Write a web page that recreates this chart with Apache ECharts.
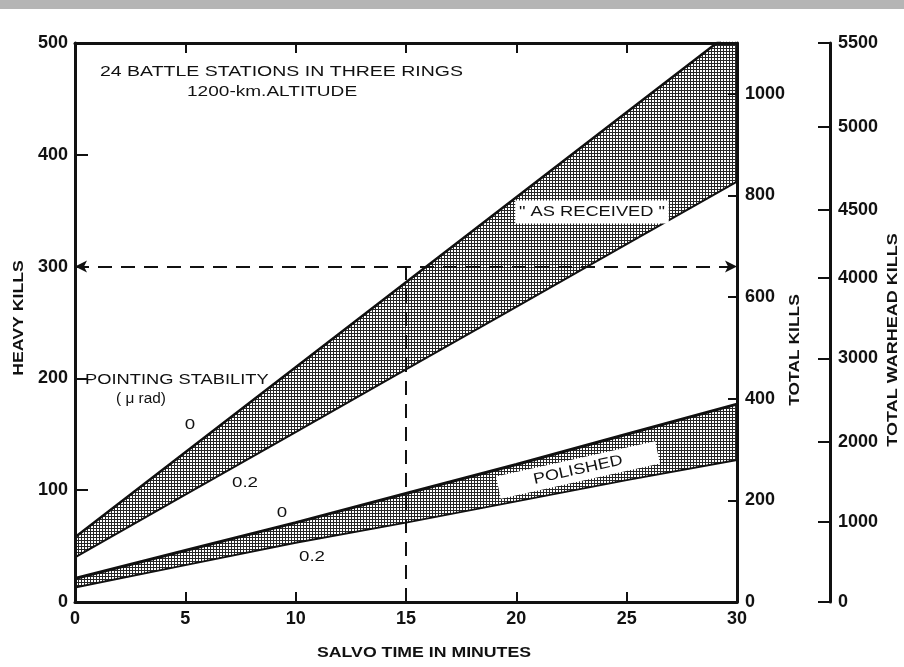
<!DOCTYPE html>
<html>
<head>
<meta charset="utf-8">
<script src="https://cdn.jsdelivr.net/npm/echarts@6/dist/echarts.min.js"></script>
<style>
  html, body { margin: 0; padding: 0; background: #fff; }
  #chart { width: 904px; height: 667px; }
</style>
</head>
<body>
<div id="chart"></div>
<script>
// salvo time (minutes) and heavy kills
const minutes = [0, 5, 10, 15, 20, 25, 30]
const asReceived0 = [58, 134, 210, 286, 362, 438, 514]
const asReceived02 = [40, 96, 152, 208, 264, 320, 376]
const polished0 = [21, 46, 71, 97, 123, 150, 177]
const polished02 = [13, 33, 53, 71, 90, 109, 127]

// axis ticks
const heavyMax = 500
const totalKillMax = 1100
const warheadTicks = [0, 1000, 2000, 3000, 4000, 4500, 5000, 5500]
// where each warhead tick sits, in heavy-kill units (the printed scale is not linear)
const warheadTickAt = [0, 71.6, 143, 218, 290, 351, 425, 500]

// dashed guide
const guideMinute = 15
const guideHeavy = 300

const font = '"Liberation Sans", Arial, sans-serif'

function stipple () {
  const c = document.createElement('canvas')
  c.width = 3
  c.height = 3
  const g = c.getContext('2d')
  g.fillStyle = '#fff'
  g.fillRect(0, 0, 3, 3)
  g.fillStyle = '#262626'
  g.fillRect(0, 0, 3, 1)
  g.fillRect(0, 0, 1, 3)
  return c
}
const pattern = { image: stipple(), repeat: 'repeat' }

function pairs (ys) {
  return minutes.map((m, i) => [m, ys[i]])
}

// band edge: line plus a fill down to the axis (pattern for the upper edge,
// white for the lower edge so only the band between them stays shaded)
function edge (name, ys, fill, width) {
  return {
    name: name,
    type: 'line',
    data: pairs(ys),
    showSymbol: false,
    lineStyle: { color: '#111', width: width },
    areaStyle: { color: fill, opacity: 1 }
  }
}

function text (t, x, y, opts) {
  opts = opts || {}
  const el = {
    type: 'text',
    x: x,
    y: y,
    z: 100,
    scaleX: opts.scaleX || 1.25,
    style: Object.assign({
      text: t,
      font: '15px ' + font,
      fill: '#111',
      textAlign: 'left',
      textVerticalAlign: 'middle'
    }, opts.style || {})
  }
  if (opts.rotation) el.rotation = opts.rotation
  return el
}

const chart = echarts.init(document.getElementById('chart'))

const tickLabel = { color: '#111', fontSize: 18, fontWeight: 'bold', fontFamily: font }
const axisLine = { show: true, onZero: false, lineStyle: { color: '#111', width: 3 } }

chart.setOption({
  animation: false,
  backgroundColor: '#fff',
  grid: { left: 75, right: 167, top: 43, bottom: 65 },
  xAxis: [
    {
      type: 'value',
      z: 5,
      min: 0,
      max: 30,
      interval: 5,
      axisLine: axisLine,
      axisTick: { inside: true, length: 10, lineStyle: { color: '#111', width: 2 } },
      axisLabel: Object.assign({ margin: 8 }, tickLabel),
      splitLine: { show: false }
    },
    {
      type: 'value',
      z: 5,
      position: 'top',
      min: 0,
      max: 30,
      interval: 5,
      axisLine: axisLine,
      axisTick: { inside: true, length: 10, lineStyle: { color: '#111', width: 2 } },
      axisLabel: { show: false },
      splitLine: { show: false }
    }
  ],
  yAxis: [
    {
      type: 'value',
      z: 5,
      position: 'left',
      min: 0,
      max: heavyMax,
      interval: 100,
      axisLine: axisLine,
      axisTick: { inside: true, length: 13, lineStyle: { color: '#111', width: 2 } },
      axisLabel: Object.assign({ margin: 7 }, tickLabel),
      splitLine: { show: false }
    },
    {
      type: 'value',
      z: 5,
      position: 'right',
      min: 0,
      max: totalKillMax,
      interval: 200,
      axisLine: axisLine,
      axisTick: { inside: true, length: 9, lineStyle: { color: '#111', width: 2 } },
      axisLabel: Object.assign({
        margin: 8,
        formatter: function (v) {
          return v >= totalKillMax ? '' : String(v)
        }
      }, tickLabel),
      splitLine: { show: false }
    },
    {
      type: 'value',
      z: 5,
      position: 'right',
      offset: 93,
      min: 0,
      max: heavyMax,
      axisLine: axisLine,
      axisTick: { inside: true, length: 12, customValues: warheadTickAt, lineStyle: { color: '#111', width: 2 } },
      axisLabel: Object.assign({
        margin: 8,
        customValues: warheadTickAt,
        formatter: function (v) {
          let best = 0
          warheadTickAt.forEach((p, i) => {
            if (Math.abs(p - v) < Math.abs(warheadTickAt[best] - v)) best = i
          })
          return String(warheadTicks[best])
        }
      }, tickLabel),
      splitLine: { show: false }
    }
  ],
  series: [
    edge('as received 0', asReceived0, pattern, 2.5),
    edge('as received 0.2', asReceived02, '#fff', 2),
    edge('polished 0', polished0, pattern, 3),
    edge('polished 0.2', polished02, '#fff', 2),
    {
      name: 'guide',
      type: 'line',
      z: 4,
      data: [],
      markLine: {
        silent: true,
        symbol: 'none',
        label: { show: false },
        lineStyle: { color: '#111', width: 2, type: [14, 9] },
        data: [
          [
            { coord: [0, guideHeavy], symbol: 'arrow', symbolSize: [9, 12] },
            { coord: [30, guideHeavy], symbol: 'arrow', symbolSize: [9, 12] }
          ],
          [
            { coord: [guideMinute, 0] },
            { coord: [guideMinute, guideHeavy] }
          ]
        ]
      }
    }
  ],
  graphic: [
    { type: 'rect', shape: { x: 0, y: 0, width: 904, height: 9 }, style: { fill: '#b5b5b5' }, z: 1 },
    text('24 BATTLE STATIONS IN THREE RINGS', 100, 72, { scaleX: 1.3 }),
    text('1200-km.ALTITUDE', 187, 92, { scaleX: 1.27 }),
    text('POINTING STABILITY', 85, 380, { scaleX: 1.22 }),
    text('( \u03bc rad)', 141, 399, { scaleX: 1.1, style: { textAlign: 'center', font: '14px ' + font } }),
    text('0', 190, 425, { style: { textAlign: 'center' } }),
    text('0.2', 245, 483, { style: { textAlign: 'center' } }),
    text('0', 282, 513, { style: { textAlign: 'center' } }),
    text('0.2', 312, 557, { style: { textAlign: 'center' } }),
    text('" AS RECEIVED "', 592, 212, {
      scaleX: 1.22,
      style: { textAlign: 'center', backgroundColor: '#fff', padding: [4, 3] }
    }),
    text('POLISHED', 578, 470, {
      rotation: 12.5 * Math.PI / 180,
      scaleX: 1.2,
      style: { textAlign: 'center', backgroundColor: '#fff', padding: [4, 30] }
    }),
    text('HEAVY KILLS', 19, 318, {
      rotation: Math.PI / 2,
      scaleX: 1.18,
      style: { textAlign: 'center', font: 'bold 15px ' + font }
    }),
    text('TOTAL KILLS', 795, 350, {
      rotation: Math.PI / 2,
      scaleX: 1.16,
      style: { textAlign: 'center', font: 'bold 15px ' + font }
    }),
    text('TOTAL WARHEAD KILLS', 893, 340, {
      rotation: Math.PI / 2,
      scaleX: 1.2,
      style: { textAlign: 'center', font: 'bold 15px ' + font }
    }),
    text('SALVO TIME IN MINUTES', 317, 653, { scaleX: 1.18, style: { font: 'bold 15px ' + font } })
  ]
})
</script>
</body>
</html>
